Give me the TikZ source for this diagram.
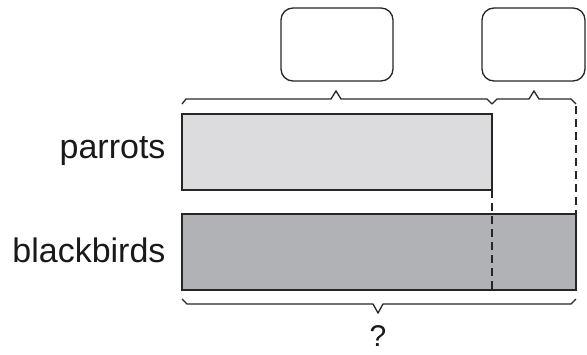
\documentclass[tikz,border=0pt]{standalone}
\usepackage{fontspec}
\setmainfont{Liberation Sans}
\usepackage{xcolor}
\usepackage{tikz}
\usetikzlibrary{positioning}

\definecolor{parrotgray}{RGB}{220,220,222}
\definecolor{birdgray}{RGB}{177,178,181}

\begin{document}
\begin{tikzpicture}[x=1pt,y=-1pt,
  bar/.style={draw=black!85,line width=1.4pt},
  answerbox/.style={draw=black!85,line width=1.3pt,rounded corners=12pt},
  brace/.style={draw=black!85,line width=1.3pt,line join=miter},
  guide/.style={draw=black!85,line width=1.3pt,dash pattern=on 8pt off 5pt},
  label/.style={font=\fontsize{34}{40}\selectfont,text=black!90,anchor=east}]
\useasboundingbox (0,0) rectangle (587,354);

% bars
\draw [bar,fill=parrotgray] (182,114) rectangle (492,190);
\draw [bar,fill=birdgray] (182,214) rectangle (576,290);

\node [label] (parrots) at (169,151) {parrots};
\node [label] (blackbirds) at (169,250) {blackbirds};

% dashed guides
\draw [guide] (492,190) -- (492,290);
\draw [guide] (576,106) -- (576,214);

% boxes for the answers
\draw [answerbox] (281,8) rectangle (393,81);
\draw [answerbox] (482,8) rectangle (585,81);

% braces
\draw [brace] (182,104) -- (186,99) -- (331,99) -- (336,91) -- (341,99) -- (487,99) -- (492,104);
\draw [brace] (492,104) -- (497,99) -- (529,99) -- (534,91) -- (539,99) -- (571,99) -- (576,104);
\draw [brace] (182,299) -- (187,304) -- (373,304) -- (378,313) -- (383,304) -- (571,304) -- (576,299);

\node [label,anchor=center,font=\fontsize{30}{36}\selectfont] (total) at (378,336) {?};

\end{tikzpicture}
\end{document}
